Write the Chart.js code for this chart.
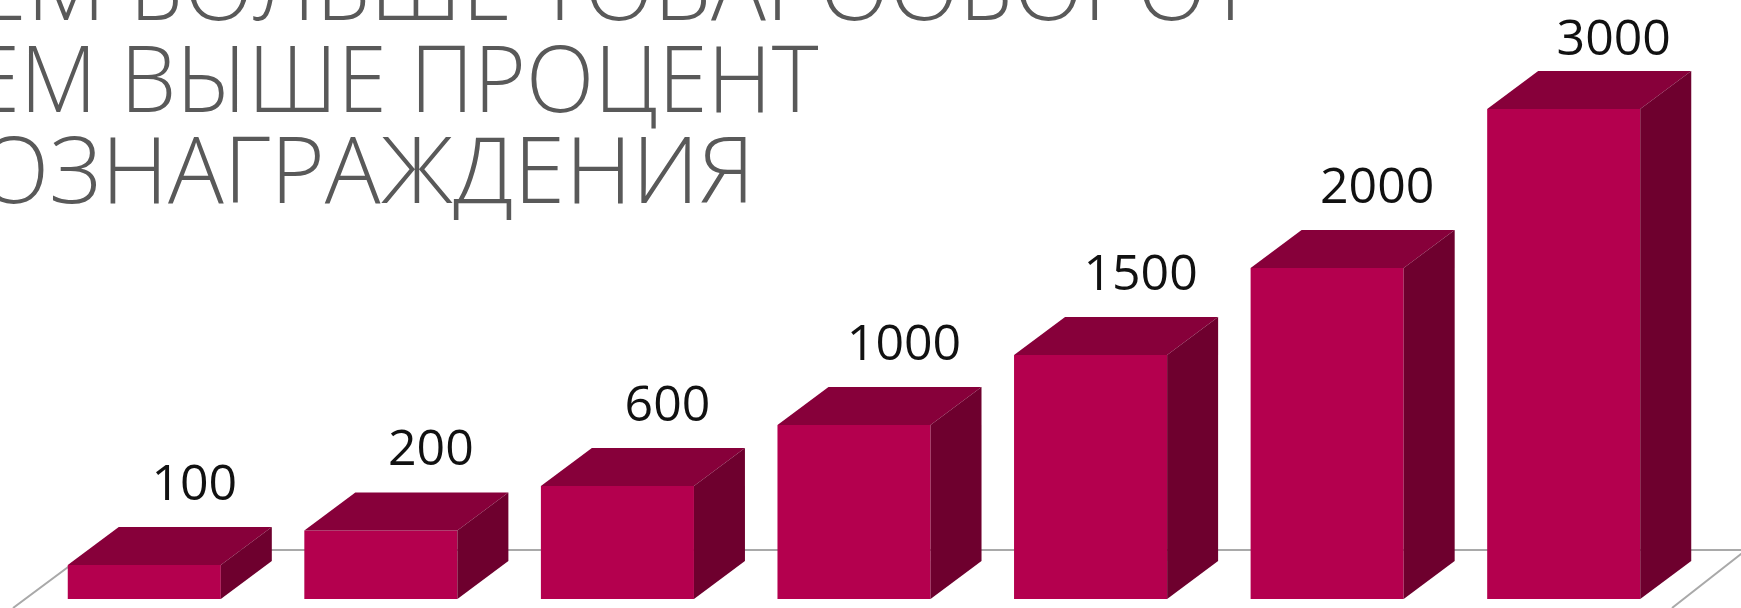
<!DOCTYPE html>
<html>
<head>
<meta charset="utf-8">
<title>Чем больше товарооборот</title>
<script src="https://cdn.jsdelivr.net/npm/chart.js@4"></script>
<style>
  html, body { margin: 0; padding: 0; background: #fff; overflow: hidden; }
  #wrap { position: relative; width: 1741px; height: 608px; overflow: hidden; }
  #chart { position: absolute; left: 0; top: 0; }
  .title-line {
    position: absolute;
    font-family: "Open Sans", sans-serif;
    font-weight: 300;
    font-size: 92px;
    line-height: 92px;
    color: #595959;
    white-space: nowrap;
    transform-origin: left top;
  }
</style>
</head>
<body>
<div id="wrap">
  <canvas id="chart" width="1741" height="608"></canvas>
  <div class="title-line" style="left:-85px;top:-61px;transform:scaleX(.993)">ЧЕМ БОЛЬШЕ ТОВАРООБОРОТ</div>
  <div class="title-line" style="left:-89px;top:31px;transform:scaleX(.97)">ЧЕМ ВЫШЕ ПРОЦЕНТ</div>
  <div class="title-line" style="left:-80px;top:122px;transform:scaleX(1.01)">ВОЗНАГРАЖДЕНИЯ</div>
</div>
<script>
// printed labels above the bars
const categories = ['100', '200', '600', '1000', '1500', '2000', '3000'];
// bar heights, they do not follow the printed labels exactly
const barValues = [208, 420, 692, 1065, 1494, 2027, 3000];

const COLOR_FRONT = '#b4004e';
const COLOR_TOP = '#87003a';
const COLOR_SIDE = '#6e002e';
const DEPTH_X = 51;
const DEPTH_Y = 38;

function poly(ctx, color, pts) {
  ctx.fillStyle = color;
  ctx.beginPath();
  pts.forEach((p, i) => i ? ctx.lineTo(p[0], p[1]) : ctx.moveTo(p[0], p[1]));
  ctx.closePath();
  ctx.fill();
}

// floor of the 3d plot, behind the bars
const floorPlugin = {
  id: 'floor',
  beforeDatasetsDraw(chart) {
    const ctx = chart.ctx;
    const base = chart.scales.y.getPixelForValue(0);
    const back = base - 49;
    ctx.save();
    ctx.strokeStyle = '#a9a9a9';
    ctx.lineWidth = 2;
    ctx.beginPath();
    ctx.moveTo(13, base + 9);
    ctx.lineTo(91, back);
    ctx.lineTo(1746, back);
    ctx.lineTo(1672, base + 9);
    ctx.stroke();
    ctx.restore();
  }
};

// top and side faces of each bar plus the value label
const boxPlugin = {
  id: 'box',
  afterDatasetsDraw(chart) {
    const ctx = chart.ctx;
    chart.getDatasetMeta(0).data.forEach((bar, i) => {
      const l = bar.x - bar.width / 2;
      const r = bar.x + bar.width / 2;
      const top = bar.y;
      const base = bar.base;
      poly(ctx, COLOR_TOP, [[l, top], [l + DEPTH_X, top - DEPTH_Y], [r + DEPTH_X, top - DEPTH_Y], [r, top]]);
      poly(ctx, COLOR_SIDE, [[r, top], [r + DEPTH_X, top - DEPTH_Y], [r + DEPTH_X, base - DEPTH_Y], [r, base]]);

      ctx.save();
      ctx.fillStyle = '#111';
      ctx.font = '50px "Open Sans", sans-serif';
      ctx.textAlign = 'center';
      ctx.textBaseline = 'alphabetic';
      ctx.fillText(chart.data.labels[i], bar.x + DEPTH_X - 1, Math.max(top - DEPTH_Y - 27, 55));
      ctx.restore();
    });
  }
};

new Chart(document.getElementById('chart'), {
  type: 'bar',
  data: {
    labels: categories,
    datasets: [{
      data: barValues,
      backgroundColor: COLOR_FRONT,
      borderWidth: 0,
      barPercentage: 0.647,
      categoryPercentage: 1
    }]
  },
  options: {
    responsive: false,
    animation: false,
    layout: { padding: { left: 26, right: 59, top: 109, bottom: 9 } },
    plugins: { legend: { display: false }, tooltip: { enabled: false } },
    scales: {
      x: { display: false },
      y: { display: false, min: 0, max: 3000 }
    }
  },
  plugins: [floorPlugin, boxPlugin]
});
</script>
</body>
</html>
